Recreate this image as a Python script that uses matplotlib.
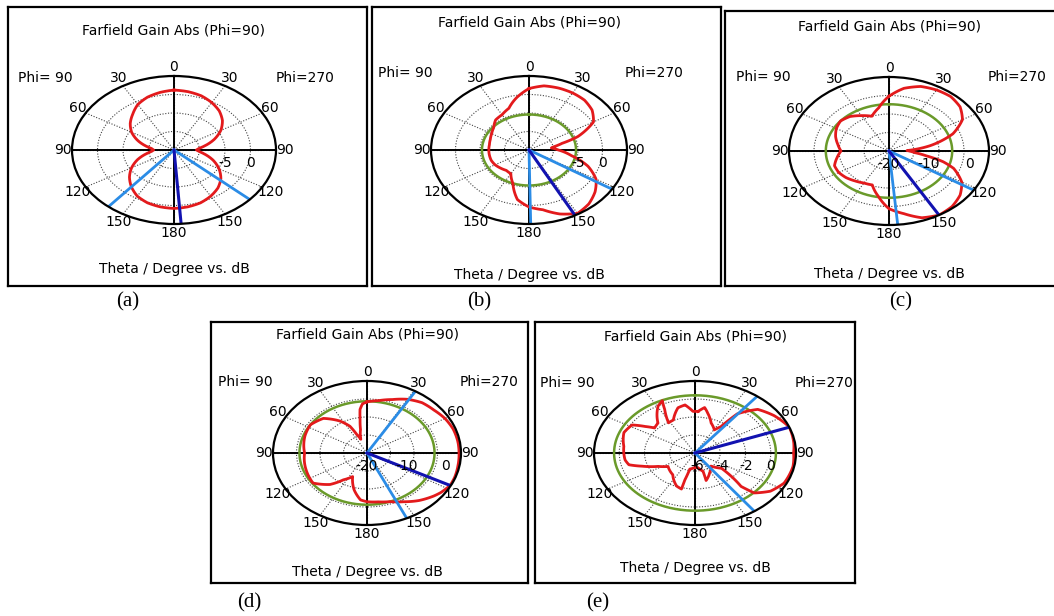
import numpy as np
import matplotlib
matplotlib.use('Agg')
from matplotlib import pyplot as plt

W, H = 1054, 616

tick_labels = ['0', '30', '60', '90', '120', '150', '180',
               '150', '120', '90', '60', '30']

# ---- (a) ----
theta_a = [0, 10, 20, 30, 40, 50, 60, 70, 80, 85, 90, 95, 100, 110, 120, 130,
           140, 150, 160, 170, 180, 190, 200, 210, 220, 230, 240, 250, 260,
           265, 270, 275, 280, 290, 300, 310, 320, 330, 340, 350]
gain_a = [1.2, 1.0, 0.6, -0.2, -1.2, -2.6, -4.4, -6.6, -9.0, -10.1, -10.6,
          -10.0, -9.0, -6.8, -4.8, -3.0, -1.6, -0.6, 0.2, 0.6, 0.8, 0.6, 0.2,
          -0.6, -2.0, -3.6, -5.4, -7.4, -9.6, -10.6, -11.0, -10.6, -9.6, -7.4,
          -5.4, -3.8, -2.4, -0.8, 0.2, 0.8]
scale_a = (-15, 5)
labels_a = [-5, 0]
green_a = None
main_a = (176, 5.0)
hpbw_a = [132, 220]

# ---- (b) ----
theta_b = [0, 10, 20, 30, 40, 50, 60, 70, 75, 80, 83, 90, 100, 110, 120, 130,
           140, 150, 160, 170, 180, 190, 200, 210, 220, 230, 240, 250, 260,
           270, 280, 290, 300, 310, 320, 330, 340, 350]
gain_b = [1.6, 2.6, 2.8, 2.8, 2.6, 1.8, 0.2, -4.4, -8.0, -9.8, -10.4, -9.0,
          -6.2, -2.2, 0.8, 2.6, 4.0, 4.8, 3.4, 1.4, 0.4, -1.4, -5.4, -7.6,
          -7.8, -7.4, -7.0, -6.8, -6.8, -6.8, -6.8, -6.6, -6.2, -5.6, -4.4,
          -4.0, -3.0, -0.6]
scale_b = (-15, 5)
labels_b = [-5, 0]
green_b = -5.4
main_b = (152, 5.0)
hpbw_b = [122, 179]

# ---- (c) ----
theta_c = [0, 10, 20, 30, 40, 50, 60, 70, 80, 88, 95, 100, 105, 110, 120, 130,
           140, 150, 160, 170, 180, 190, 200, 210, 220, 230, 240, 250, 260,
           270, 280, 290, 300, 310, 320, 330, 340, 350]
gain_c = [-1.5, 1.5, 3.2, 3.8, 4.0, 3.2, 1.2, -3.0, -9.5, -15.5, -13.5, -10.5,
          -6.0, -2.8, 1.0, 3.2, 4.5, 5.0, 4.0, 1.5, -0.5, -4.5, -7.8, -7.5,
          -6.8, -6.0, -5.5, -5.5, -6.8, -8.0, -7.0, -5.8, -4.8, -4.2, -4.8,
          -6.2, -7.5, -5.2]
scale_c = (-20, 5)
labels_c = [-20, -10, 0]
green_c = -4.2
main_c = (150, 5.0)
hpbw_c = [122, 175]

# ---- (d) ----
theta_d = [0, 10, 20, 30, 40, 50, 60, 70, 80, 90, 100, 110, 117, 125, 130,
           140, 150, 160, 170, 180, 186, 195, 205, 214, 222, 234, 250, 270,
           290, 303, 316, 327, 334, 337, 341, 348, 351, 353, 356]
gain_d = [-3.1, -2.4, -1.2, 0.5, 1.7, 2.1, 2.8, 3.2, 3.3, 3.3, 3.4, 3.6, 3.6,
          2.8, 2.1, 0.5, -1.4, -2.9, -3.6, -3.9, -4.4, -7.4, -11.4, -9.3,
          -6.0, -3.1, -3.6, -4.2, -3.3, -2.9, -4.1, -7.4, -10.2, -13.3, -15.2,
          -12.1, -8.8, -5.5, -3.7]
scale_d = (-20, 3.8)
labels_d = [-20, -10, 0]
green_d = -2.9
main_d = (117, 3.6)
hpbw_d = [31, 155]

# ---- (e) ----
theta_e = [3, 8.6, 12.9, 21, 30.8, 35, 37.6, 45.7, 56.5, 68.8, 81.8, 90,
           100.9, 115.4, 125.4, 133.4, 135.5, 132, 129, 139, 152.6, 164,
           162.6, 172, 182, 193, 195, 195, 201.6, 216, 235, 243, 250.7, 256,
           262, 277.5, 292, 302, 306.8, 311, 318.6, 330.7, 336, 333.6, 328,
           335, 345, 351.6, 358]
gain_e = [-1.4, -0.9, -1.5, -2.5, -3.1, -2.5, -0.5, 1.0, 1.6, 2.1, 2.0, 1.9,
          2.0, 1.9, 1.4, 0.5, -0.8, -2.2, -3.4, -4.2, -3.6, -2.9, -4.0, -4.5,
          -4.5, -4.3, -3.0, -1.9, -2.1, -3.1, -3.5, -2.8, -1.6, -0.6, -0.4,
          -0.3, 0.1, -0.1, -1.1, -1.8, -1.6, 0.0, 0.4, -0.6, -2.1, -2.0, -0.8,
          -0.6, -1.4]
scale_e = (-6.2, 2.1)
labels_e = [-6, -4, -2, 0]
green_e = 0.45
main_e = (69, 2.1)
hpbw_e = [38, 144]

# layout in pixels: box, centre, radii, title y, phi label offsets/y,
# bottom label y, caption position
panels = [
    dict(th=theta_a, g=gain_a, sc=scale_a, lab=labels_a, green=green_a,
         main=main_a, hp=hpbw_a, box=(8, 7, 367, 286), c=(174, 150),
         rx=102, ry=74, ty=30, phi=(-129, 131, 78), by=269,
         cap='(a)', cap_xy=(128, 302)),
    dict(th=theta_b, g=gain_b, sc=scale_b, lab=labels_b, green=green_b,
         main=main_b, hp=hpbw_b, box=(372, 7, 721, 286), c=(529, 150),
         rx=98, ry=74, ty=23, phi=(-124, 125, 73), by=275,
         cap='(b)', cap_xy=(479, 302)),
    dict(th=theta_c, g=gain_c, sc=scale_c, lab=labels_c, green=green_c,
         main=main_c, hp=hpbw_c, box=(725, 11, 1062, 286), c=(889, 151),
         rx=100, ry=74, ty=27, phi=(-126, 128, 77), by=274,
         cap='(c)', cap_xy=(901, 302)),
    dict(th=theta_d, g=gain_d, sc=scale_d, lab=labels_d, green=green_d,
         main=main_d, hp=hpbw_d, box=(211, 322, 528, 583), c=(367, 453),
         rx=94, ry=72, ty=335, phi=(-122, 122, 382), by=572,
         cap='(d)', cap_xy=(249, 603)),
    dict(th=theta_e, g=gain_e, sc=scale_e, lab=labels_e, green=green_e,
         main=main_e, hp=hpbw_e, box=(535, 322, 855, 583), c=(695, 453),
         rx=101, ry=72, ty=337, phi=(-128, 129, 383), by=568,
         cap='(e)', cap_xy=(598, 603)),
]

RED = '#e31a1c'
GREEN = '#6a9a2a'
LBLUE = '#2b8ce6'
DBLUE = '#1212b0'
FS = 10


def fx(x):
    return x / W


def fy(y):
    return 1 - y / H


fig = plt.figure(figsize=(W / 100, H / 100), dpi=100)

for p in panels:
    x0, y0, x1, y1 = p['box']
    frame = fig.add_axes([fx(x0), fy(y1), (x1 - x0) / W, (y1 - y0) / H])
    frame.set_xticks([])
    frame.set_yticks([])
    for s in frame.spines.values():
        s.set_linewidth(1.6)
    cx, cy = p['c']
    dl, dr, py = p['phi']
    fig.text(fx(cx), fy(p['ty']), 'Farfield Gain Abs (Phi=90)',
             ha='center', va='center', fontsize=FS)
    fig.text(fx(cx + dl), fy(py), 'Phi= 90', ha='center', va='center',
             fontsize=FS)
    fig.text(fx(cx + dr), fy(py), 'Phi=270', ha='center', va='center',
             fontsize=FS)
    fig.text(fx(cx), fy(p['by']), 'Theta / Degree vs. dB', ha='center',
             va='center', fontsize=FS)
    fig.text(fx(p['cap_xy'][0]), fy(p['cap_xy'][1]), p['cap'], ha='center',
             va='center', fontsize=15, family='Liberation Serif')

    rx, ry = p['rx'], p['ry']
    ax = fig.add_axes([fx(cx - rx), fy(cy + ry), 2 * rx / W, 2 * ry / H],
                      projection='polar')
    ax.set_aspect('auto')
    ax.set_theta_zero_location('N')
    ax.set_theta_direction(-1)
    rmin, rmax = p['sc']
    ax.set_rlim(rmin, rmax)
    step = (rmax - rmin) / 4
    ax.set_rgrids([rmin + step, rmin + 2 * step, rmin + 3 * step],
                  labels=['', '', ''])
    ax.set_thetagrids(np.arange(0, 360, 30), labels=tick_labels,
                      fontsize=FS)
    ax.tick_params(axis='x', pad=-4)
    ax.grid(True, linestyle=(0, (1, 1.5)), color='#444444', linewidth=0.8)
    ax.spines['polar'].set_linewidth(1.6)

    # solid cross through the centre
    for t in (0, 90, 180, 270):
        ax.plot(np.deg2rad([t, t]), [rmin, rmax], color='k', lw=1.4)

    if p['green'] is not None:
        tt = np.linspace(0, 2 * np.pi, 361)
        ax.plot(tt, np.full_like(tt, p['green']), color=GREEN, lw=1.8)

    # close the pattern by going on to theta + 360
    th = np.deg2rad(np.r_[p['th'], p['th'][0] + 360])
    g = np.r_[p['g'], p['g'][0]]
    red, = ax.plot(th, g, color=RED, lw=2)
    # draw segments along polar arcs like the grid circles
    red.get_path()._interpolation_steps = 12

    for a in p['hp']:
        ax.plot(np.deg2rad([a, a]), [rmin, rmax], color=LBLUE, lw=2)
    ma, mr = p['main']
    ax.plot(np.deg2rad([ma, ma]), [rmin, mr], color=DBLUE, lw=2.2)

    for v in p['lab']:
        ax.annotate(str(v), xy=(np.pi / 2, v), xytext=(0, -13),
                    textcoords='offset pixels', ha='center', va='center',
                    fontsize=FS)

fig.savefig('out.png', dpi=100)
